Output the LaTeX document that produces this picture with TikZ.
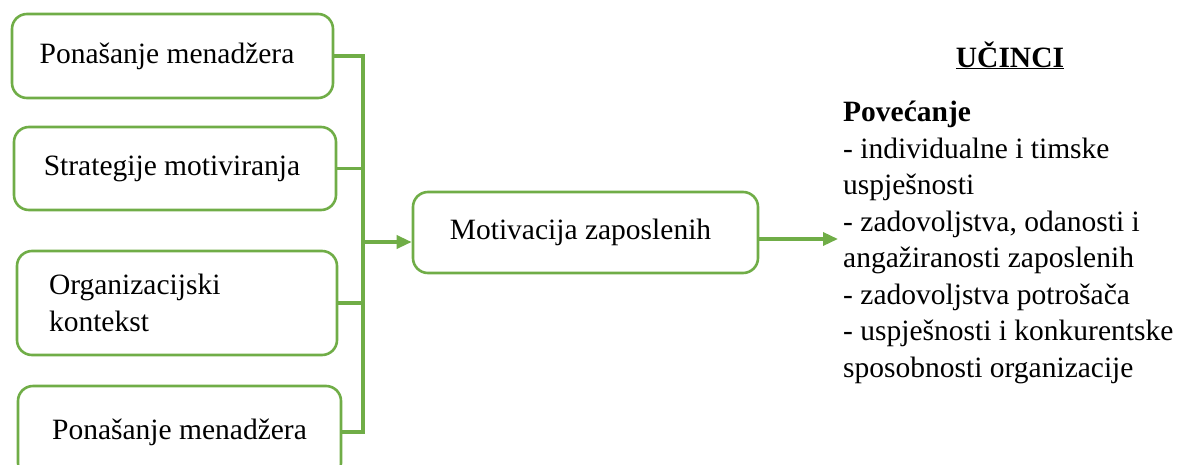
\documentclass[tikz,border=0pt]{standalone}
\usepackage{fontspec}
\setmainfont{Liberation Serif}
\usetikzlibrary{arrows.meta}
\definecolor{grn}{HTML}{70AD47}
\begin{document}
\begin{tikzpicture}[x=1pt,y=-1pt,
  box/.style={draw=grn, line width=2.6pt, rounded corners=15pt, inner sep=0pt,
    font=\fontsize{29.5}{37}\selectfont, align=center},
  conn/.style={draw=grn, line width=3.4pt},
  arr/.style={conn, -{Triangle[length=15pt,width=13pt]}},
  txt/.style={inner sep=0pt, font=\fontsize{29.5}{36.5}\selectfont}]
\useasboundingbox (0,0) rectangle (1179,464);
\clip (0,0) rectangle (1179,464);
\node[box, minimum width=321pt, minimum height=84pt] (b1) at (172.5,56) {Ponašanje menadžera\hspace*{11pt}};
\node[box, minimum width=322pt, minimum height=83pt] (b2) at (175,168.5) {Strategije motiviranja\hspace*{6pt}};
\node[box, text width=256pt, inner xsep=32pt, minimum height=104pt, align=left] (b3) at (177,303) {Organizacijski\\kontekst};
\node[box, minimum width=323pt, minimum height=92pt] (b4) at (179.5,432) {Ponašanje menadžera};
\node[box, minimum width=345pt, minimum height=81pt] (m) at (585.5,232.5) {Motivacija zaposlenih\hspace*{10pt}};
\coordinate (vx) at (363,0);
\coordinate (vj) at (363,242);
\coordinate (rt) at (838,239);
\draw[conn] (b1.east) -| (b4.east -| vx) -- (b4.east);
\draw[conn] (b2.east) -- (b2.east -| vx);
\draw[conn] (b3.east) -- (b3.east -| vx);
\draw[arr] (vj) -- (vj -| m.west);
\draw[arr] (m.east |- rt) -- (rt);
\node[txt, font=\fontsize{29.5}{36.5}\selectfont\bfseries, anchor=base] (t) at (1010,67) {\underline{UČINCI}};
\node[txt, anchor=north west, align=left] (lst) at (843,101) {\textbf{Povećanje}\\- individualne i timske\\uspješnosti\\- zadovoljstva, odanosti i\\angažiranosti zaposlenih\\- zadovoljstva potrošača\\- uspješnosti i konkurentske\\sposobnosti organizacije};
\end{tikzpicture}
\end{document}
